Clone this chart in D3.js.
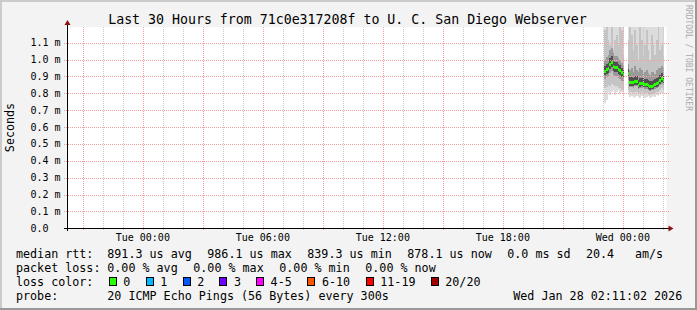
<!DOCTYPE html>
<html>
<head>
<meta charset="utf-8">
<script src="https://cdn.jsdelivr.net/npm/d3@7"></script>
<style>
  body { margin: 0; background: #f3f3f3; }
  svg { display: block; font-family: "DejaVu Sans Mono", monospace; }
</style>
</head>
<body>
<svg id="chart" width="697" height="310"></svg>
<script>
// time window of the graph and the 5 minute probe steps
const graphStart = new Date(2026, 0, 26, 20, 11, 2);
const graphEnd = new Date(2026, 0, 28, 2, 11, 2);
const stepStart = new Date(2026, 0, 27, 23, 5, 0);
const stepMinutes = 5;

// values in ms, null = no data
const median = [0.932,0.941,0.947,0.973,0.985,0.961,0.955,0.955,0.944,0.938,0.923,0.914,null,null,
  0.920,0.866,0.866,0.864,0.872,0.872,0.849,0.858,0.861,0.858,0.855,0.855,0.846,0.840,0.843,0.846,0.855,0.858,0.864,0.878,0.887,0.878];
const smokeMax = [1.42,1.35,1.28,1.51,1.33,1.26,1.39,1.30,1.24,1.45,1.29,1.22,null,null,
  1.31,1.48,1.27,1.36,1.25,1.40,1.22,1.55,1.30,1.26,1.34,1.43,1.28,1.24,1.37,1.29,1.25,1.33,1.46,1.27,1.24,1.30];
const smokeMin = [0.742,0.760,0.807,0.789,0.807,0.819,0.789,0.807,0.819,0.795,0.807,0.783,null,null,
  0.789,0.777,0.783,0.772,0.777,0.783,0.777,0.772,0.783,0.777,0.772,0.777,0.783,0.772,0.777,0.783,0.777,0.789,0.783,0.795,0.801,0.795];
const band2Hi = [1.175,1.21,1.116,1.086,1.21,1.056,1.116,1.145,1.086,1.21,1.175,1.027,null,null,
  1.116,1.21,1.145,1.056,1.175,1.086,0.997,1.21,1.116,1.027,1.086,1.175,1.056,0.997,1.145,1.086,1.027,1.116,1.21,1.056,1.086,1.027];
const band2Lo = [0.831,0.837,0.849,0.843,0.855,0.849,0.843,0.843,0.831,0.831,0.819,0.819,null,null,
  0.819,0.807,0.807,0.801,0.807,0.807,0.795,0.801,0.807,0.801,0.801,0.801,0.795,0.789,0.795,0.795,0.801,0.807,0.807,0.819,0.831,0.825];
const band3Hi = [0.997,1.015,1.027,1.056,1.068,1.039,1.021,1.021,1.009,0.997,0.979,0.967,null,null,
  0.973,0.938,0.950,0.926,0.961,0.938,0.926,0.950,0.938,0.914,0.926,0.938,0.920,0.908,0.926,0.926,0.914,0.938,0.950,0.950,0.961,0.950];
const band3Lo = [0.884,0.896,0.902,0.920,0.932,0.908,0.902,0.902,0.890,0.884,0.872,0.866,null,null,
  0.878,0.837,0.837,0.831,0.843,0.843,0.825,0.831,0.831,0.831,0.825,0.825,0.819,0.813,0.819,0.819,0.825,0.831,0.837,0.849,0.855,0.849];
const band4Hi = [0.961,0.973,0.979,1.009,1.021,0.991,0.985,0.985,0.973,0.967,0.950,0.938,null,null,
  0.944,0.896,0.896,0.890,0.902,0.902,0.878,0.890,0.890,0.890,0.884,0.884,0.878,0.872,0.872,0.878,0.884,0.890,0.896,0.908,0.920,0.908];
const band4Lo = [0.908,0.914,0.920,0.944,0.955,0.932,0.926,0.926,0.914,0.908,0.896,0.890,null,null,
  0.896,0.843,0.843,0.843,0.849,0.849,0.831,0.837,0.843,0.837,0.837,0.837,0.825,0.819,0.825,0.825,0.837,0.837,0.843,0.855,0.866,0.855];

const yTicks = [0, 0.1, 0.2, 0.3, 0.4, 0.5, 0.6, 0.7, 0.8, 0.9, 1.0, 1.1];

const title = "Last 30 Hours from 71c0e317208f to U. C. San Diego Webserver";
const rttLabels = ["891.3 us avg", "986.1 us max", "839.3 us min", "878.1 us now", "0.0 ms sd", "20.4", "am/s"];
const lossLabels = ["0.00 % avg", "0.00 % max", "0.00 % min", "0.00 % now"];
const lossNames = ["0", "1", "2", "3", "4-5", "6-10", "11-19", "20/20"];
const lossColors = ["#26ff00", "#00b8ff", "#0059ff", "#7000ff", "#ff00ff", "#ff5500", "#ff0000", "#a00000"];
const probeText = "20 ICMP Echo Pings (56 Bytes) every 300s";
const stamp = "Wed Jan 28 02:11:02 2026";

const svg = d3.select("#chart");
const W = 697, H = 310;
const pL = 66.5, pR = 666.5, pT = 27, pB = 228.3;

const x = d3.scaleTime().domain([graphStart, graphEnd]).range([pL, pR]);
const y = d3.scaleLinear().domain([0, 1.193]).range([pB, pT]);
const crisp = v => Math.round(v) + 0.5;

// background and 3d frame
svg.append("rect").attr("width", W).attr("height", H).attr("fill", "#f3f3f3");
svg.append("rect").attr("x", 0).attr("y", 0).attr("width", W).attr("height", 2).attr("fill", "#cbcbcb");
svg.append("rect").attr("x", 0).attr("y", 0).attr("width", 2).attr("height", H).attr("fill", "#cbcbcb");
svg.append("rect").attr("x", W - 2).attr("y", 0).attr("width", 2).attr("height", H).attr("fill", "#999");
svg.append("rect").attr("x", 0).attr("y", H - 2).attr("width", W).attr("height", 2).attr("fill", "#999");

svg.append("rect").attr("x", pL).attr("y", pT).attr("width", pR - pL).attr("height", pB - pT).attr("fill", "#fff");

svg.append("clipPath").attr("id", "plot").append("rect")
  .attr("x", pL).attr("y", pT).attr("width", pR - pL).attr("height", pB - pT);

// smoke
const steps = median.map((m, i) => ({
  t0: d3.timeMinute.offset(stepStart, i * stepMinutes),
  t1: d3.timeMinute.offset(stepStart, (i + 1) * stepMinutes),
  med: m, max: smokeMax[i], min: smokeMin[i],
  h2: band2Hi[i], l2: band2Lo[i], h3: band3Hi[i], l3: band3Lo[i], h4: band4Hi[i], l4: band4Lo[i]
})).filter(d => d.med !== null);

const smoke = svg.append("g").attr("clip-path", "url(#plot)").attr("shape-rendering", "crispEdges");
const bands = [["max", "min", "#dcdcdc"], ["h2", "l2", "#c4c4c4"], ["h3", "l3", "#9a9a9a"], ["h4", "l4", "#505050"]];
bands.forEach(([hi, lo, col]) => {
  smoke.selectAll(null).data(steps).enter().append("rect")
    .attr("x", d => x(d.t0))
    .attr("width", d => x(d.t1) - x(d.t0))
    .attr("y", d => y(d[hi]))
    .attr("height", d => y(d[lo]) - y(d[hi]))
    .attr("fill", col);
});

// grid
const grid = svg.append("g").attr("stroke-dasharray", "1,1").attr("shape-rendering", "crispEdges");
const hours = d3.timeHour.range(graphStart, graphEnd);
grid.selectAll(null).data(hours.filter(h => h.getHours() % 3 !== 0)).enter().append("line")
  .attr("x1", d => crisp(x(d))).attr("x2", d => crisp(x(d)))
  .attr("y1", pT).attr("y2", pB + 2)
  .attr("stroke", "#c8c8c8");
grid.selectAll(null).data(hours.filter(h => h.getHours() % 3 === 0)).enter().append("line")
  .attr("x1", d => crisp(x(d))).attr("x2", d => crisp(x(d)))
  .attr("y1", pT).attr("y2", pB + 2)
  .attr("stroke", "#f4a0a0");
grid.selectAll(null).data(yTicks.slice(1)).enter().append("line")
  .attr("x1", pL - 3).attr("x2", pR + 2)
  .attr("y1", d => crisp(y(d))).attr("y2", d => crisp(y(d)))
  .attr("stroke", "#f4a0a0");

// median
svg.append("g").attr("clip-path", "url(#plot)").attr("shape-rendering", "crispEdges")
  .selectAll(null).data(steps).enter().append("rect")
  .attr("x", d => x(d.t0))
  .attr("width", d => x(d.t1) - x(d.t0))
  .attr("y", d => y(d.med) - 1.5)
  .attr("height", 3)
  .attr("fill", lossColors[0]);

// axes
const axis = svg.append("g").attr("shape-rendering", "crispEdges");
const ay = crisp(y(0)), ax = crisp(pL);
axis.append("line").attr("x1", pL - 3).attr("x2", pR + 4)
  .attr("y1", ay).attr("y2", ay).attr("stroke", "#000");
axis.append("line").attr("x1", ax).attr("x2", ax)
  .attr("y1", pB + 3).attr("y2", pT - 3).attr("stroke", "#000");
svg.append("path").attr("d", `M${pR + 2},${ay - 3}L${pR + 7},${ay}L${pR + 2},${ay + 3}Z`).attr("fill", "#8b1010");
svg.append("path").attr("d", `M${ax - 3},${pT - 2}L${ax},${pT - 7}L${ax + 3},${pT - 2}Z`).attr("fill", "#8b1010");

// tick labels
svg.selectAll(null).data(yTicks).enter().append("text")
  .attr("x", 30.5).attr("y", d => y(d)).attr("dy", "0.35em")
  .attr("font-size", "10px").attr("fill", "#000")
  .text(d => d === 0 ? "0.0" : d3.format(".1f")(d) + " m");

const fmt = d3.timeFormat("%a %H:%M");
svg.selectAll(null).data(d3.timeHour.every(6).range(graphStart, graphEnd)).enter().append("text")
  .attr("x", d => x(d)).attr("y", 240.7).attr("text-anchor", "middle")
  .attr("font-size", "10px").text(d => fmt(d));

// titles
svg.append("text").attr("x", 347.5).attr("y", 24).attr("text-anchor", "middle")
  .attr("font-size", "13.25px").text(title);
svg.append("text").attr("transform", "translate(14,127.5) rotate(-90)").attr("text-anchor", "middle")
  .attr("font-size", "11.7px").text("Seconds");
svg.append("text").attr("transform", "translate(685.5,5) rotate(90)")
  .attr("font-size", "8px").attr("fill", "#aaa").text("RRDTOOL / TOBI OETIKER");

// legend
const lg = svg.append("g").attr("font-size", "11.7px");
const rttX = [107.3, 207.3, 307.3, 407.3, 507.3, 586, 635];
lg.append("text").attr("x", 16).attr("y", 258).text("median rtt:");
lg.selectAll(null).data(rttLabels).enter().append("text")
  .attr("x", (d, i) => rttX[i]).attr("y", 258).text(d => d);

const lossX = [107.3, 193.3, 279.3, 365.3];
lg.append("text").attr("x", 16).attr("y", 272).text("packet loss:");
lg.selectAll(null).data(lossLabels).enter().append("text")
  .attr("x", (d, i) => lossX[i]).attr("y", 272).text(d => d);

const boxX = [108.7, 145.7, 182.7, 219.3, 256, 307.3, 365.7, 430.7];
lg.append("text").attr("x", 16).attr("y", 286).text("loss color:");
lg.selectAll(null).data(lossNames).enter().append("rect")
  .attr("x", (d, i) => Math.round(boxX[i]) + 0.5).attr("y", 277.5)
  .attr("width", 7).attr("height", 8)
  .attr("fill", (d, i) => lossColors[i]).attr("stroke", "#000");
lg.selectAll(null).data(lossNames).enter().append("text")
  .attr("x", (d, i) => boxX[i] + 14.6).attr("y", 286).text(d => d);

lg.append("text").attr("x", 16).attr("y", 299.5).text("probe:");
lg.append("text").attr("x", 107.3).attr("y", 299.5).text(probeText);
lg.append("text").attr("x", 513.3).attr("y", 299.5).text(stamp);
</script>
</body>
</html>
